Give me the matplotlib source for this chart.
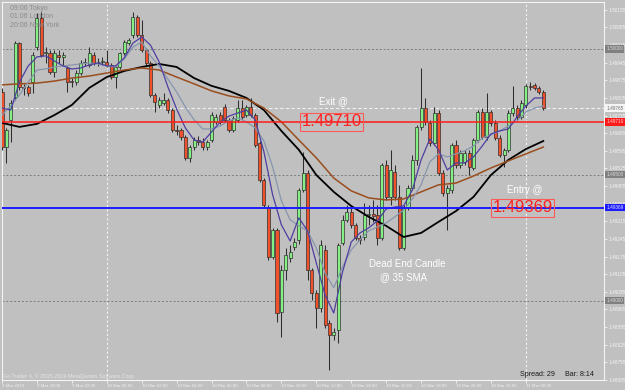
import numpy as np
import matplotlib
matplotlib.use("Agg")
import matplotlib.pyplot as plt
import matplotlib.transforms as mtransforms

plt.rcParams['font.family'] = ['Liberation Sans', 'DejaVu Sans']

# ---------------- data (EURCHF-like M15, 9 Mar 18:00 -> 11 Mar 01:00) ----------------
opens = [
    1.49829, 1.49610, 1.49718, 1.49809, 1.50023, 1.49849, 1.49849, 1.49868, 1.50007, 1.50123,
    1.49984, 1.49984, 1.49908, 1.49976, 1.49968, 1.49924, 1.49872, 1.49868, 1.49904, 1.49944,
    1.49936, 1.49976, 1.49948, 1.49948, 1.49948, 1.49936, 1.49888, 1.49928, 1.49984, 1.50023,
    1.50055, 1.50127, 1.50055, 1.49996, 1.49944, 1.49817, 1.49777, 1.49785, 1.49797, 1.49757,
    1.49678, 1.49678, 1.49650, 1.49567, 1.49610, 1.49638, 1.49630, 1.49610, 1.49638, 1.49710,
    1.49737, 1.49769, 1.49718, 1.49678, 1.49718, 1.49765, 1.49737, 1.49769, 1.49737, 1.49626,
    1.49479, 1.49372, 1.49174, 1.49281, 1.48955, 1.49122, 1.49170, 1.49213, 1.49241, 1.49440,
    1.49507, 1.49122, 1.49031, 1.48971, 1.49202, 1.48912, 1.48864, 1.48884, 1.49229, 1.49321,
    1.49352, 1.49301, 1.49249, 1.49253, 1.49340, 1.49344, 1.49340, 1.49249, 1.49539, 1.49412,
    1.49511, 1.49412, 1.49209, 1.49372, 1.49448, 1.49559, 1.49690, 1.49765, 1.49706, 1.49626,
    1.49745, 1.49507, 1.49428, 1.49440, 1.49618, 1.49539, 1.49551, 1.49587, 1.49527, 1.49638,
    1.49749, 1.49650, 1.49749, 1.49706, 1.49646, 1.49579, 1.49599, 1.49745, 1.49765, 1.49730,
    1.49777, 1.49853, 1.49857, 1.49845, 1.49829]

highs = [
    1.49845, 1.49686, 1.49797, 1.50031, 1.50027, 1.49861, 1.49857, 1.49988, 1.50142, 1.50146,
    1.50007, 1.49996, 1.49996, 1.49996, 1.49988, 1.49932, 1.49884, 1.49916, 1.49956, 1.49964,
    1.50007, 1.49988, 1.49964, 1.49968, 1.49996, 1.49944, 1.49936, 1.49988, 1.50035, 1.50043,
    1.50146, 1.50134, 1.50115, 1.50003, 1.49952, 1.49825, 1.49809, 1.49825, 1.49805, 1.49765,
    1.49698, 1.49686, 1.49658, 1.49618, 1.49650, 1.49654, 1.49646, 1.49638, 1.49749, 1.49741,
    1.49749, 1.49781, 1.49726, 1.49733, 1.49797, 1.49797, 1.49777, 1.49805, 1.49745, 1.49634,
    1.49487, 1.49380, 1.49289, 1.49289, 1.49142, 1.49209, 1.49221, 1.49249, 1.49448, 1.49591,
    1.49519, 1.49130, 1.49043, 1.49241, 1.49221, 1.48924, 1.48892, 1.49229, 1.49340, 1.49380,
    1.49368, 1.49309, 1.49261, 1.49388, 1.49380, 1.49400, 1.49380, 1.49547, 1.49559, 1.49599,
    1.49539, 1.49460, 1.49380, 1.49460, 1.49579, 1.49698, 1.49924, 1.49805, 1.49718, 1.49769,
    1.49757, 1.49519, 1.49460, 1.49626, 1.49638, 1.49599, 1.49599, 1.49599, 1.49646, 1.49757,
    1.49765, 1.49825, 1.49757, 1.49718, 1.49658, 1.49606, 1.49757, 1.49853, 1.49777, 1.49797,
    1.49861, 1.49868, 1.49864, 1.49853, 1.49837]

lows = [
    1.49599, 1.49547, 1.49630, 1.49797, 1.49837, 1.49817, 1.49813, 1.49825, 1.49996, 1.49968,
    1.49944, 1.49900, 1.49888, 1.49944, 1.49936, 1.49829, 1.49849, 1.49857, 1.49896, 1.49932,
    1.49928, 1.49936, 1.49932, 1.49936, 1.49928, 1.49880, 1.49845, 1.49920, 1.49976, 1.50015,
    1.50043, 1.50047, 1.49988, 1.49936, 1.49809, 1.49749, 1.49765, 1.49777, 1.49745, 1.49670,
    1.49658, 1.49638, 1.49559, 1.49551, 1.49599, 1.49618, 1.49599, 1.49599, 1.49630, 1.49702,
    1.49702, 1.49710, 1.49670, 1.49670, 1.49710, 1.49722, 1.49730, 1.49730, 1.49610, 1.49471,
    1.49372, 1.49162, 1.49166, 1.48916, 1.48856, 1.49082, 1.49154, 1.49202, 1.49225, 1.49432,
    1.49082, 1.49003, 1.48892, 1.48955, 1.48892, 1.48725, 1.48844, 1.48832, 1.49221, 1.49313,
    1.49289, 1.49241, 1.49225, 1.49241, 1.49301, 1.49313, 1.49221, 1.49241, 1.49400, 1.49380,
    1.49400, 1.49202, 1.49202, 1.49360, 1.49440, 1.49539, 1.49678, 1.49698, 1.49614, 1.49618,
    1.49499, 1.49416, 1.49281, 1.49428, 1.49527, 1.49527, 1.49539, 1.49499, 1.49519, 1.49630,
    1.49642, 1.49638, 1.49694, 1.49638, 1.49571, 1.49531, 1.49591, 1.49733, 1.49718, 1.49722,
    1.49765, 1.49837, 1.49837, 1.49821, 1.49757]

closes = [
    1.49610, 1.49678, 1.49785, 1.50023, 1.49849, 1.49845, 1.49825, 1.49976, 1.50123, 1.49976,
    1.49988, 1.49908, 1.49984, 1.49968, 1.49976, 1.49868, 1.49868, 1.49904, 1.49944, 1.49948,
    1.49984, 1.49944, 1.49946, 1.49952, 1.49936, 1.49888, 1.49928, 1.49984, 1.50027, 1.50035,
    1.50127, 1.50055, 1.49996, 1.49944, 1.49817, 1.49789, 1.49797, 1.49797, 1.49757, 1.49678,
    1.49674, 1.49650, 1.49567, 1.49610, 1.49638, 1.49630, 1.49610, 1.49630, 1.49737, 1.49730,
    1.49710, 1.49718, 1.49678, 1.49726, 1.49765, 1.49730, 1.49769, 1.49737, 1.49618, 1.49479,
    1.49380, 1.49174, 1.49281, 1.48951, 1.49122, 1.49182, 1.49194, 1.49233, 1.49440, 1.49507,
    1.49122, 1.49031, 1.48971, 1.49221, 1.48904, 1.48864, 1.48876, 1.49221, 1.49321, 1.49352,
    1.49301, 1.49249, 1.49241, 1.49340, 1.49344, 1.49336, 1.49249, 1.49539, 1.49412, 1.49519,
    1.49412, 1.49209, 1.49372, 1.49448, 1.49559, 1.49690, 1.49765, 1.49710, 1.49626, 1.49745,
    1.49507, 1.49428, 1.49448, 1.49618, 1.49539, 1.49587, 1.49587, 1.49531, 1.49638, 1.49749,
    1.49650, 1.49749, 1.49706, 1.49646, 1.49579, 1.49599, 1.49745, 1.49765, 1.49730, 1.49785,
    1.49853, 1.49849, 1.49845, 1.49829, 1.49765]

# slow averages, read every 4th bar
sma35_black = [
    1.49706, 1.49690, 1.49702, 1.49737, 1.49777, 1.49845, 1.49888, 1.49912, 1.49928, 1.49940,
    1.49928, 1.49884, 1.49853, 1.49833, 1.49805, 1.49757, 1.49674, 1.49599, 1.49499, 1.49432,
    1.49376, 1.49333, 1.49297, 1.49253, 1.49269, 1.49313, 1.49356, 1.49412, 1.49499, 1.49559,
    1.49602, 1.49634]
ma_brown = [
    1.49857, 1.49861, 1.49864, 1.49872, 1.49884, 1.49892, 1.49904, 1.49916, 1.49924, 1.49916,
    1.49888, 1.49861, 1.49833, 1.49813, 1.49801, 1.49765, 1.49710, 1.49638, 1.49567, 1.49487,
    1.49436, 1.49408, 1.49400, 1.49404, 1.49432, 1.49460, 1.49467, 1.49495, 1.49527, 1.49555,
    1.49583, 1.49610]
# fast averages, read every 2nd bar
ma_fast = [
    1.49765, 1.49757, 1.49868, 1.49932, 1.49968, 1.49972, 1.49952, 1.49932, 1.49920, 1.49924,
    1.49936, 1.49944, 1.49932, 1.49932, 1.49964, 1.50023, 1.50047, 1.50015, 1.49948, 1.49849,
    1.49761, 1.49686, 1.49638, 1.49630, 1.49670, 1.49710, 1.49733, 1.49745, 1.49757, 1.49718,
    1.49591, 1.49420, 1.49301, 1.49237, 1.49329, 1.49277, 1.49150, 1.49023, 1.48951, 1.49114,
    1.49233, 1.49269, 1.49289, 1.49317, 1.49364, 1.49372, 1.49376, 1.49440, 1.49559, 1.49642,
    1.49599, 1.49519, 1.49547, 1.49547, 1.49571, 1.49614, 1.49662, 1.49674, 1.49682, 1.49730,
    1.49773, 1.49805, 1.49805]
ma_mid = [
    1.49737, 1.49773, 1.49817, 1.49868, 1.49916, 1.49920, 1.49928, 1.49932, 1.49936, 1.49940,
    1.49944, 1.49940, 1.49932, 1.49928, 1.49960, 1.50007, 1.50027, 1.49972, 1.49932, 1.49880,
    1.49829, 1.49769, 1.49718, 1.49682, 1.49682, 1.49694, 1.49714, 1.49726, 1.49710, 1.49686,
    1.49634, 1.49531, 1.49396, 1.49321, 1.49297, 1.49277, 1.49209, 1.49110, 1.49051, 1.49134,
    1.49202, 1.49241, 1.49277, 1.49293, 1.49309, 1.49333, 1.49360, 1.49404, 1.49460, 1.49551,
    1.49583, 1.49571, 1.49583, 1.49595, 1.49614, 1.49646, 1.49658, 1.49674, 1.49694, 1.49714,
    1.49749, 1.49765, 1.49773]

time_labels = ["9 Mar 2010", "9 Mar 20:00", "9 Mar 22:00", "10 Mar 00:00", "10 Mar 02:00",
               "10 Mar 04:00", "10 Mar 06:00", "10 Mar 08:00", "10 Mar 10:00", "10 Mar 12:00",
               "10 Mar 14:00", "10 Mar 16:00", "10 Mar 18:00", "10 Mar 20:00", "10 Mar 22:00",
               "11 Mar 00:00"]
time_label_bars = [0, 8, 16, 24, 32, 40, 48, 56, 64, 72, 80, 88, 96, 104, 112, 120]
day_separator_bars = [24, 120]

price_ticks = [1.48685, 1.48755, 1.48825, 1.48895, 1.48965, 1.49035, 1.49105, 1.49175,
               1.49245, 1.49315, 1.49385, 1.49455, 1.49525, 1.49595, 1.49665, 1.49735,
               1.49805, 1.49875, 1.49945, 1.50015, 1.50085, 1.50155]
round_levels = [1.50000, 1.49500, 1.49000]
exit_price = 1.49710
entry_price = 1.49369
bid_price = closes[-1]

# ---------------- figure ----------------
W, H = 625, 390
BG = '#c0c0c0'
fig = plt.figure(figsize=(W / 100, H / 100), dpi=100)
fig.patch.set_facecolor(BG)
ax = fig.add_axes([2 / W, 10 / H, 602 / W, 378 / H])
ax.set_facecolor(BG)
ax.set_xlim(0.0, 137.9)
ax.set_ylim(1.48685, 1.50186)

def fpx(x, y):
    return x / W, 1 - y / H

# grid-like levels and separators
for lvl in round_levels:
    ax.axhline(lvl, color='#7c7c7c', ls=(0, (2, 2)), lw=0.7, zorder=1)
for b in day_separator_bars:
    ax.axvline(b, color='#f4f4f4', ls=(0, (2, 2)), lw=0.8, zorder=1)
ax.axhline(bid_price, color='#f0f0f0', ls=(0, (3, 2)), lw=0.8, zorder=2)

# candles
idx = np.arange(len(closes))
o = np.array(opens); c = np.array(closes); h = np.array(highs); l = np.array(lows)
ax.vlines(idx, l, h, color='#2e2e2e', lw=0.75, zorder=3)
bull = c >= o
cols = np.where(bull, '#84f084', '#f0502a')
bottom = np.minimum(o, c)
height = np.maximum(np.abs(c - o), 0.000012)
ax.bar(idx, height, bottom=bottom, width=0.7, color=cols, edgecolor='#303030',
       linewidth=0.5, zorder=4)

# moving averages
ax.plot(np.arange(0, len(closes), 4), sma35_black, color='#000000', lw=1.3, zorder=5)
ax.plot(np.arange(0, len(closes), 4), ma_brown, color='#9a4e1e', lw=1.1, zorder=5)
ax.plot(np.arange(0, len(closes), 2), ma_mid, color='#8796ae', lw=0.9, zorder=5)
ax.plot(np.arange(0, len(closes), 2), ma_fast, color='#4e3fa0', lw=0.9, zorder=5)

# exit / entry lines
ax.axhline(exit_price, color='#ff1a1a', lw=1.1, zorder=6)
ax.axhline(entry_price, color='#1c1cff', lw=1.4, zorder=6)

# spines / axes
for s in ax.spines.values():
    s.set_color('#f4f4f4')
    s.set_linewidth(0.8)
ax.yaxis.tick_right()
ax.set_yticks(price_ticks)
ax.set_yticklabels([f"{p:.5f}" for p in price_ticks])
ax.tick_params(axis='y', colors='#f4f4f4', labelcolor='#f4f4f4', labelsize=3.4,
               length=2, width=0.6, pad=1)
ax.set_xticks(time_label_bars)
ax.set_xticklabels(time_labels)
for t in ax.get_xticklabels():
    t.set_horizontalalignment('left')
ax.tick_params(axis='x', colors='#f4f4f4', labelcolor='#f0f0f0', labelsize=3.2,
               length=2, width=0.6, pad=1)

# axis price boxes
btrans = mtransforms.blended_transform_factory(ax.transAxes, ax.transData)
def axis_box(price, fc, tc):
    ax.text(1.004, price, f"{price:.5f}", transform=btrans, fontsize=3.4, color=tc,
            ha='left', va='center', clip_on=False, zorder=10,
            bbox=dict(boxstyle='square,pad=0.25', fc=fc, ec='none'))
for lvl in round_levels:
    axis_box(lvl, '#808080', '#d8d8d8')
axis_box(bid_price, '#f4f4f4', '#707070')
axis_box(exit_price, '#ff1a1a', '#ffd0d0')
axis_box(entry_price, '#1c1cff', '#e0e0ff')

# clocks
for k, s in enumerate(["09:06 Tokyo", "01:06 London", "20:06 New York"]):
    fig.text(*fpx(10, 8 + 8.7 * k), s, fontsize=5, color='#8c8c8c', ha='left', va='center')

# annotations
fig.text(*fpx(333, 101), "Exit @", fontsize=7, color='white', ha='center', va='center')
fig.text(*fpx(331.5, 122), "1.49710", fontsize=12, color='#ff2020', ha='center', va='center',
         zorder=10, bbox=dict(boxstyle='square,pad=0.08', fc='none', ec='#ff5a5a', lw=0.8))
fig.text(*fpx(525, 190), "Entry @", fontsize=7, color='white', ha='center', va='center')
fig.text(*fpx(522.5, 208), "1.49369", fontsize=12, color='#ff2020', ha='center', va='center',
         zorder=10, bbox=dict(boxstyle='square,pad=0.08', fc='none', ec='#ff5a5a', lw=0.8))
fig.text(*fpx(407, 264), "Dead End Candle", fontsize=7, color='white', ha='center', va='center')
fig.text(*fpx(404, 277), "@ 35 SMA", fontsize=7, color='white', ha='center', va='center')

fig.text(*fpx(3, 376), "Go Trader 4, \u00a9 2005-2009 MetaQuotes Software Corp.",
         fontsize=3.9, color='#e6e6e6', ha='left', va='center')
fig.text(*fpx(520, 375), "Spread: 29", fontsize=5.1, color='#1a1a1a', ha='left', va='center')
fig.text(*fpx(565, 375), "Bar: 8:14", fontsize=5.1, color='#1a1a1a', ha='left', va='center')

fig.savefig('out.png', dpi=100, facecolor=BG)
